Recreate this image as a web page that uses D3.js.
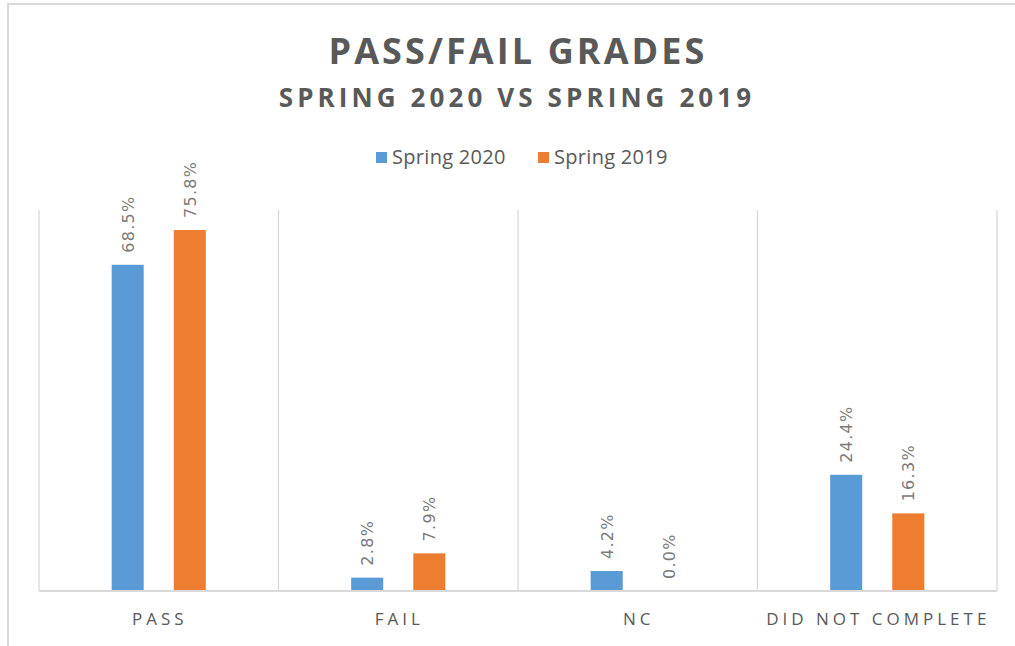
<!DOCTYPE html>
<html>
<head>
<meta charset="utf-8">
<title>Pass/Fail Grades</title>
<script src="https://cdn.jsdelivr.net/npm/d3@7"></script>
<style>
  body { margin: 0; background: #fff; }
  svg { display: block; }
  .title, .legend text, .cat { font-family: "Open Sans", sans-serif; fill: #595959; }
  .val { font-family: "DejaVu Sans", sans-serif; fill: #7a7a7a; }
</style>
</head>
<body>
<div id="chart"></div>
<script>
  // chart data
  var categories = ['PASS', 'FAIL', 'NC', 'DID NOT COMPLETE'];
  var seriesNames = ['Spring 2020', 'Spring 2019'];
  var spring2020 = [68.5, 2.8, 4.2, 24.4];
  var spring2019 = [75.8, 7.9, 0.0, 16.3];
  var colors = ['#5b9bd5', '#ed7d31'];

  var width = 1015, height = 646;
  var plotLeft = 39, plotRight = 997, plotTop = 210, plotBottom = 591;

  var svg = d3.select('#chart')
    .append('svg')
    .attr('width', width)
    .attr('height', height);

  // outer chart border (runs off the right/bottom edge)
  svg.append('rect')
    .attr('x', 8).attr('y', 4)
    .attr('width', 1020).attr('height', 660)
    .attr('fill', 'none')
    .attr('stroke', '#d9d9d9')
    .attr('stroke-width', 2);

  var x0 = d3.scaleBand()
    .domain(categories)
    .range([plotLeft, plotRight])
    .padding(0);

  var x1 = d3.scaleBand()
    .domain(seriesNames)
    .range([0, x0.bandwidth()])
    .paddingInner(0.484)
    .paddingOuter(1.17);

  var y = d3.scaleLinear()
    .domain([0, 80])
    .range([plotBottom, plotTop]);

  // vertical category separators
  var seps = categories.map(function(c) { return x0(c); }).concat([plotRight]);
  svg.selectAll('.sep')
    .data(seps)
    .enter().append('line')
    .attr('class', 'sep')
    .attr('x1', function(d) { return d; })
    .attr('x2', function(d) { return d; })
    .attr('y1', plotTop)
    .attr('y2', plotBottom)
    .attr('stroke', '#d9d9d9')
    .attr('stroke-width', 1.3);

  var rows = categories.map(function(c, i) {
    return { cat: c, values: [spring2020[i], spring2019[i]] };
  });

  var groups = svg.selectAll('.grp')
    .data(rows)
    .enter().append('g')
    .attr('class', 'grp')
    .attr('transform', function(d) { return 'translate(' + x0(d.cat) + ',0)'; });

  groups.selectAll('rect')
    .data(function(d) {
      return d.values.map(function(v, i) { return { name: seriesNames[i], v: v, i: i }; });
    })
    .enter().append('rect')
    .attr('x', function(d) { return x1(d.name); })
    .attr('y', function(d) { return y(d.v); })
    .attr('width', x1.bandwidth())
    .attr('height', function(d) { return plotBottom - y(d.v); })
    .attr('fill', function(d) { return colors[d.i]; });

  groups.selectAll('.val')
    .data(function(d) {
      return d.values.map(function(v, i) { return { name: seriesNames[i], v: v }; });
    })
    .enter().append('text')
    .attr('class', 'val')
    .attr('font-size', 16)
    .attr('letter-spacing', 1.3)
    .attr('transform', function(d) {
      var cx = x1(d.name) + x1.bandwidth() / 2 + 6;
      var cy = y(d.v) - 12;
      return 'translate(' + cx + ',' + cy + ') rotate(-90)';
    })
    .text(function(d) { return d.v.toFixed(1) + '%'; });

  // baseline
  svg.append('line')
    .attr('x1', plotLeft).attr('x2', plotRight)
    .attr('y1', plotBottom).attr('y2', plotBottom)
    .attr('stroke', '#d9d9d9')
    .attr('stroke-width', 2);

  // category labels
  svg.selectAll('.cat')
    .data(categories)
    .enter().append('text')
    .attr('class', 'cat')
    .attr('x', function(d) { return x0(d) + x0.bandwidth() / 2 + 1; })
    .attr('y', 625)
    .attr('text-anchor', 'middle')
    .attr('font-size', 17)
    .attr('letter-spacing', 4)
    .text(function(d) { return d; });

  // titles
  svg.append('text')
    .attr('class', 'title')
    .attr('x', 518).attr('y', 64)
    .attr('text-anchor', 'middle')
    .attr('font-size', 36)
    .attr('font-weight', 'bold')
    .attr('letter-spacing', 3.1)
    .text('PASS/FAIL GRADES');

  svg.append('text')
    .attr('class', 'title')
    .attr('x', 517).attr('y', 107)
    .attr('text-anchor', 'middle')
    .attr('font-size', 26)
    .attr('font-weight', 'bold')
    .attr('letter-spacing', 4.1)
    .text('SPRING 2020 VS SPRING 2019');

  // legend
  var legendX = [376, 538];
  var legend = svg.selectAll('.legend')
    .data(seriesNames)
    .enter().append('g')
    .attr('class', 'legend')
    .attr('transform', function(d, i) { return 'translate(' + legendX[i] + ',0)'; });

  legend.append('rect')
    .attr('x', 0).attr('y', 152)
    .attr('width', 11).attr('height', 11)
    .attr('fill', function(d, i) { return colors[i]; });

  legend.append('text')
    .attr('x', 16).attr('y', 164)
    .attr('font-size', 20)
    .attr('letter-spacing', 0.3)
    .text(function(d) { return d; });
</script>
</body>
</html>
